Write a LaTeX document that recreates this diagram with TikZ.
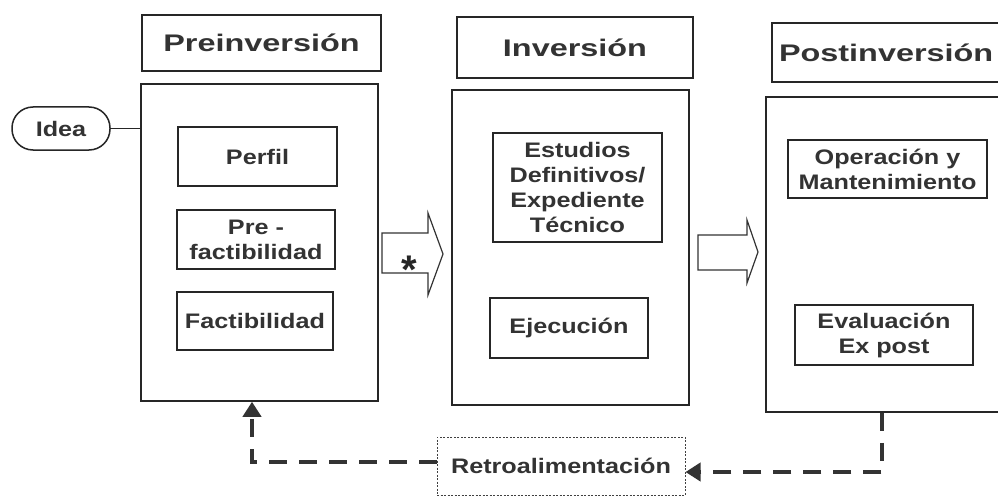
\documentclass[tikz,border=0pt]{standalone}
\usepackage{fontspec}
\usetikzlibrary{arrows.meta}
\newfontfamily\hdrfont[FakeStretch=1.35]{Liberation Sans Bold}
\newfontfamily\infont[FakeStretch=1.2]{Liberation Sans Bold}
\begin{document}
\begin{tikzpicture}[x=1pt,y=-1pt,
  box/.style={draw=black!85, line width=1.5pt, rectangle, inner sep=0pt, align=center, text=black!80},
  hdr/.style={box, font=\hdrfont\fontsize{24}{28}\selectfont},
  inbox/.style={box, font=\infont\fontsize{21}{25}\selectfont},
  big/.style={box},
  fb/.style={draw=black!80, line width=4pt, dash pattern=on 18pt off 12pt},
  flow/.style={draw=black!80, line width=1.2pt, fill=white, line join=miter}
]
\useasboundingbox (0,0) rectangle (998,500);
\fill[white] (0,0) rectangle (998,500);

% Preinversion
\node[hdr, minimum width=239pt, minimum height=56pt] (PreH) at (261.5,43) {Preinversión};
\node[big, minimum width=237pt, minimum height=317pt] (PreM) at (259.5,242.5) {};
\node[inbox, minimum width=98pt, minimum height=43pt, rounded corners=21pt] (Idea) at (61,128.5) {Idea};
\node[inbox, minimum width=159pt, minimum height=59pt] (Perfil) at (257.5,156.5) {Perfil};
\node[inbox, minimum width=158pt, minimum height=59pt] (PreF) at (256,239.5) {Pre -\\factibilidad};
\node[inbox, minimum width=156pt, minimum height=58pt] (Fact) at (255,321) {Factibilidad};
\draw[black!85, line width=1.2pt] (Idea.east) -- (PreM.west |- Idea.east);

% Inversion
\node[hdr, minimum width=236pt, minimum height=61pt] (InvH) at (575,47.5) {Inversión};
\node[big, minimum width=237pt, minimum height=315pt] (InvM) at (570.5,247.5) {};
\node[inbox, minimum width=169pt, minimum height=109pt] (Est) at (577.5,187.5) {Estudios\\Definitivos/\\Expediente\\Técnico};
\node[inbox, minimum width=158pt, minimum height=60pt] (Ejec) at (569,328) {Ejecución};

% Postinversion
\node[hdr, minimum width=238pt, minimum height=59pt, text width=238pt, align=left] (PostH) at (891,52.5) {\hspace*{7pt}Postinversión};
\node[big, minimum width=244pt, minimum height=315pt] (PostM) at (888,254.5) {};
\node[inbox, minimum width=199pt, minimum height=58pt] (Oper) at (887.5,169) {Operación y\\Mantenimiento};
\node[inbox, minimum width=178pt, minimum height=60pt] (Eval) at (884,335) {Evaluación\\Ex post};

% flow arrows
\draw[flow] (382,233) -- (428,233) -- (428,213) -- (443,254) -- (428,295) -- (428,273) -- (382,273) -- cycle;
\node[font=\fontspec{Liberation Sans Bold}\fontsize{40}{40}\selectfont, text=black!85, inner sep=0pt] (star) at (409,270) {*};
\draw[flow] (698,235) -- (747,235) -- (747,220) -- (758,252) -- (747,283) -- (747,270) -- (698,270) -- cycle;

% Retroalimentacion
\node[inbox, draw=black!75, line width=1pt, dash pattern=on 2pt off 1.5pt, minimum width=248pt, minimum height=58pt] (Retro) at (561,466) {Retroalimentación};

\coordinate (cl) at (252,462);
\coordinate (cr) at (882,472);
\draw[fb, -{Triangle[length=15pt,width=18pt]}] (Retro.west |- cl) -- (cl) -- (PreM.south -| cl);
\draw[fb, -{Triangle[length=15pt,width=18pt]}] (PostM.south -| cr) -- (cr) -- (Retro.east |- cr);
\end{tikzpicture}
\end{document}
